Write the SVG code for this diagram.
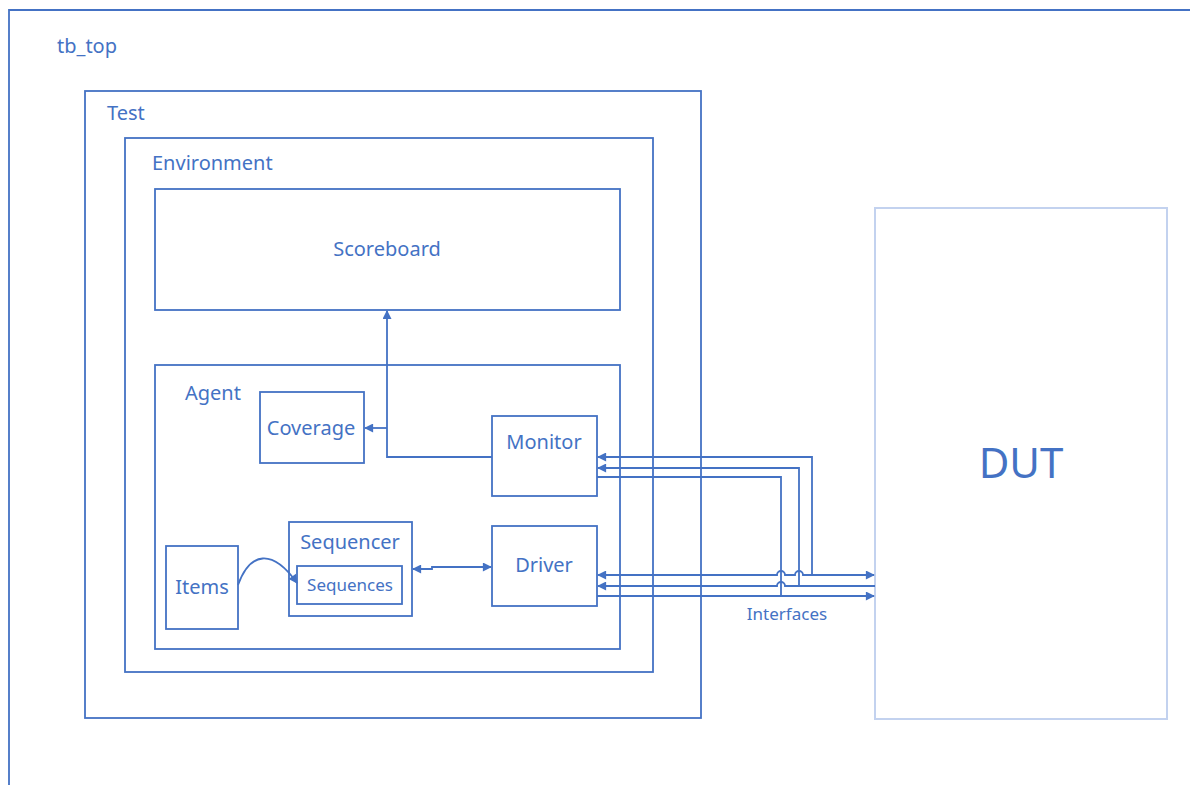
<svg xmlns="http://www.w3.org/2000/svg" width="1190" height="785" viewBox="0 0 1190 785">
  <style>
    .box { fill: #ffffff; stroke: #4472C4; stroke-width: 1.8; }
    .frame { fill: none; stroke: #4472C4; stroke-width: 1.8; }
    .dut { fill: #ffffff; stroke: #C3D2EF; stroke-width: 2; }
    .lbl { font-family: "Noto Sans", "Open Sans", sans-serif; fill: #4472C4; font-size: 20px; }
    .small { font-size: 17px; }
    .mid { text-anchor: middle; }
    .wire { fill: none; stroke: #4472C4; stroke-width: 1.8; }
  </style>
  <defs>
    <marker id="arrow" viewBox="0 0 10 10" refX="9" refY="5" markerWidth="10" markerHeight="9" markerUnits="userSpaceOnUse" orient="auto-start-reverse">
      <path d="M0,0 L10,5 L0,10 Z" fill="#4472C4"/>
    </marker>
  </defs>

  <rect width="1190" height="785" fill="#ffffff"/>

  <!-- top-level testbench frame, runs off the right and bottom edges -->
  <g id="tb_top">
    <path class="frame" d="M9,800 L9,10 L1200,10"/>
    <text class="lbl" x="57" y="53">tb_top</text>
  </g>

  <g id="test">
    <rect class="box" x="85" y="91" width="616" height="627"/>
    <text class="lbl" x="107" y="120">Test</text>
  </g>

  <g id="environment">
    <rect class="box" x="125" y="138" width="528" height="534"/>
    <text class="lbl" x="152" y="170">Environment</text>
  </g>

  <g id="scoreboard">
    <rect class="box" x="155" y="189" width="465" height="121"/>
    <text class="lbl mid" x="387" y="256">Scoreboard</text>
  </g>

  <g id="agent">
    <rect class="box" x="155" y="365" width="465" height="284"/>
    <text class="lbl" x="185" y="400">Agent</text>
  </g>

  <g id="coverage">
    <rect class="box" x="260" y="392" width="104" height="71"/>
    <text class="lbl mid" x="311" y="435">Coverage</text>
  </g>

  <g id="monitor">
    <rect class="box" x="492" y="416" width="105" height="80"/>
    <text class="lbl mid" x="544" y="449">Monitor</text>
  </g>

  <g id="items">
    <rect class="box" x="166" y="546" width="72" height="83"/>
    <text class="lbl mid" x="202" y="594">Items</text>
  </g>

  <g id="sequencer">
    <rect class="box" x="289" y="522" width="123" height="94"/>
    <text class="lbl mid" x="350" y="549">Sequencer</text>
  </g>

  <g id="sequences">
    <rect class="box" x="297" y="566" width="105" height="38"/>
    <text class="lbl mid small" x="350" y="591">Sequences</text>
  </g>

  <g id="driver">
    <rect class="box" x="492" y="526" width="105" height="80"/>
    <text class="lbl mid" x="544" y="572">Driver</text>
  </g>

  <g id="dut">
    <rect class="dut" x="875" y="208" width="292" height="511"/>
    <text class="lbl mid" x="1021" y="478" style="font-size:42px">DUT</text>
  </g>

  <g id="connectors">
    <!-- monitor to scoreboard and coverage -->
    <path class="wire" d="M492,457 L387,457 L387,311" marker-end="url(#arrow)"/>
    <path class="wire" d="M387,428 L365,428" marker-end="url(#arrow)"/>

    <!-- items into sequences -->
    <path class="wire" d="M238,585 C250,552 272,548 297,583" marker-end="url(#arrow)"/>

    <!-- sequencer and driver -->
    <path class="wire" d="M413,569 L432,569 L432,567 L491,567" marker-start="url(#arrow)" marker-end="url(#arrow)"/>

    <!-- interface lines back to the monitor -->
    <path class="wire" d="M812,575 L812,457 L598,457" marker-end="url(#arrow)"/>
    <path class="wire" d="M799,586 L799,468 L598,468" marker-end="url(#arrow)"/>
    <path class="wire" d="M781,596 L781,477 L597,477"/>

    <!-- interface lines between driver and DUT -->
    <path class="wire" d="M874,575 L803,575 A4,4 0 0 0 795,575 L785,575 A4,4 0 0 0 777,575 L598,575" marker-start="url(#arrow)" marker-end="url(#arrow)"/>
    <path class="wire" d="M875,586 L785,586 A4,4 0 0 0 777,586 L598,586" marker-end="url(#arrow)"/>
    <path class="wire" d="M597,596 L874,596" marker-end="url(#arrow)"/>

    <text class="lbl mid small" x="787" y="620">Interfaces</text>
  </g>
</svg>
